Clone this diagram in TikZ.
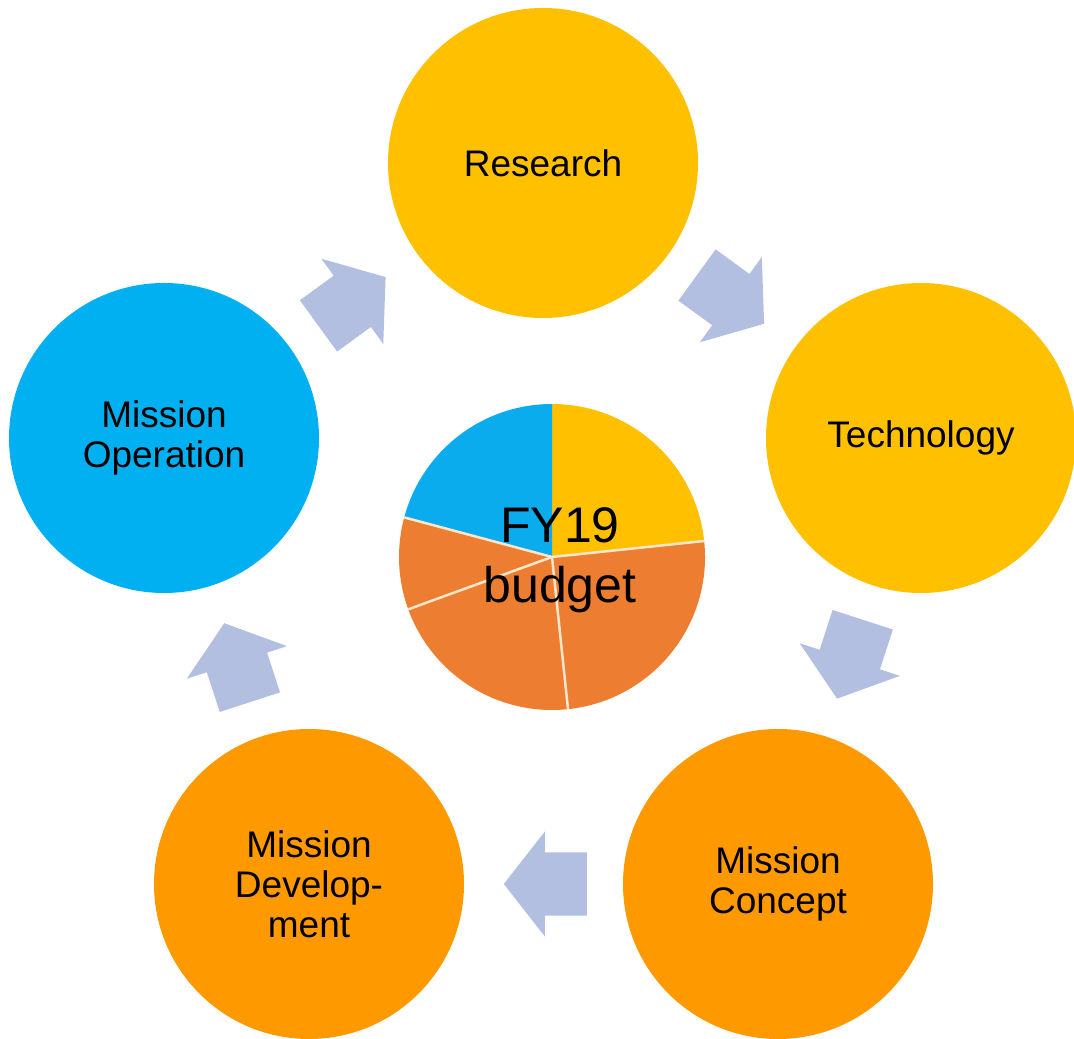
\documentclass[tikz,border=0pt]{standalone}
\usepackage{fontspec}
\setmainfont{Liberation Sans}
\usetikzlibrary{shapes.arrows, calc}
\definecolor{gold}{HTML}{FFC000}
\definecolor{amber}{HTML}{FF9900}
\definecolor{sky}{HTML}{00B0F0}
\definecolor{pieorange}{HTML}{ED7D31}
\definecolor{pieblue}{HTML}{0BACEE}
\definecolor{flowblue}{HTML}{B2BFE0}
\definecolor{seam}{HTML}{FCE6CC}
\begin{document}
\begin{tikzpicture}[x=1pt, y=1pt,
                    stage/.style={circle, minimum size=310pt, inner sep=0pt,
                                  align=center, font=\fontsize{37}{40}\selectfont},
                    flow/.style={single arrow, fill=flowblue, draw=none, anchor=tail,
                                 minimum height=83pt, minimum width=105pt,
                                 inner xsep=0pt, inner ysep=31.5pt,
                                 single arrow head extend=21pt,
                                 single arrow tip angle=104}]
                    \useasboundingbox (0,0) rectangle (1074,1039);
                    % stages
                    \node (Research) [stage, fill=gold] at (543,876) {Research};
                    \node (Technology) [stage, fill=gold] at (921,601) {Technology};
                    \node (Concept) [stage, fill=amber] at (778,155) {Mission\\Concept};
                    \node (Development) [stage, fill=amber] at (309,155) {Mission\\Develop-\\ment};
                    \node (Operation) [stage, fill=sky] at (164,601) {Mission\\Operation};
                    % arrows, tail 43.5pt back from the midpoint
                    \node (ResTech) [flow, rotate=-36] at ($($(Research)!0.5!(Technology)$)!43.5pt!(Research)$) {};
                    \node (TechCon) [flow, rotate=-108] at ($($(Technology)!0.5!(Concept)$)!43.5pt!(Technology)$) {};
                    \node (ConDev) [flow, rotate=180] at ($($(Concept)!0.5!(Development)$)!43.5pt!(Concept)$) {};
                    \node (DevOp) [flow, rotate=108] at ($($(Development)!0.5!(Operation)$)!43.5pt!(Development)$) {};
                    \node (OpRes) [flow, rotate=36] at ($($(Operation)!0.5!(Research)$)!43.5pt!(Operation)$) {};
                    % budget pie
                    \coordinate (Pie) at (552,482);
                    \fill[gold] (Pie) -- ++(6:153) arc[start angle=6, end angle=90, radius=153] -- cycle;
                    \fill[pieblue] (Pie) -- ++(90:153) arc[start angle=90, end angle=165, radius=153] -- cycle;
                    \fill[pieorange] (Pie) -- ++(165:153) arc[start angle=165, end angle=276, radius=153] -- cycle;
                    \fill[pieorange] (Pie) -- ++(-84:153) arc[start angle=-84, end angle=6, radius=153] -- cycle;
                    \foreach \a in {6, 165, 200, 276}
                        \draw[seam, line width=2.5pt] (Pie) -- ++(\a:153);
                    \node (Budget) [align=center, font=\fontsize{50}{60}\selectfont] at (560,479) {FY19\\budget};
                \end{tikzpicture}
\end{document}
